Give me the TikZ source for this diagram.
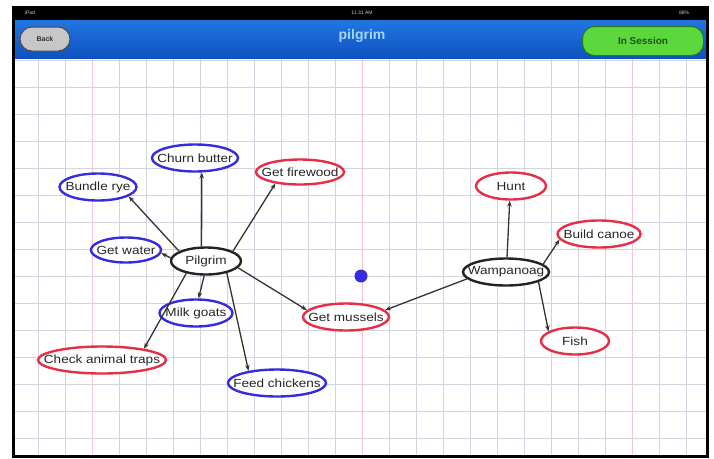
\documentclass[tikz,border=0pt]{standalone}
\usepackage{fontspec}
\usetikzlibrary{arrows.meta,shapes.geometric}
\newfontfamily\appfont[FakeStretch=1.15]{Liberation Sans}
\newfontfamily\barfont{Liberation Sans}
\definecolor{bubblue}{RGB}{52,44,222}
\definecolor{bubred}{RGB}{230,46,70}
\definecolor{bubblack}{RGB}{35,35,35}
\definecolor{gridgray}{RGB}{212,212,224}
\definecolor{gridpink}{RGB}{244,196,208}
\definecolor{bartop}{RGB}{34,118,224}
\definecolor{barbot}{RGB}{14,82,192}
\definecolor{okgreen}{RGB}{92,216,60}
\definecolor{okdark}{RGB}{40,120,30}

\begin{document}
\begin{tikzpicture}[x=1pt,y=-1pt,
    bub/.style={ellipse,draw,line width=2.4pt,fill=white,inner xsep=-25pt,inner ysep=0pt,
                minimum height=27pt,font=\appfont\fontsize{11.8}{13}\selectfont,text=black!85},
    bluebub/.style={bub,draw=bubblue},
    redbub/.style={bub,draw=bubred},
    hubbub/.style={bub,draw=bubblack},
    gridline/.style={draw=gridgray,line width=1pt},
    pill/.style={rounded corners=12pt,inner sep=0pt,font=\barfont\bfseries\fontsize{7}{8}\selectfont}]
\useasboundingbox (0,0) rectangle (714,458);
\fill[white] (0,0) rectangle (714,458);

% paper grid
\foreach \k in {0,...,14}
    \draw[gridline] (15,{60+27*\k}) -- (706,{60+27*\k});
\foreach \k in {-12,...,12}
    \draw[gridline] ({362+27*\k},58) -- ({362+27*\k},455);
\foreach \k in {-10,0,10}
    \draw[draw=gridpink,line width=1pt] ({362+27*\k},58) -- ({362+27*\k},455);

% status bar and title bar
\fill[black] (13,7) rectangle (708,20);
\shade[top color=bartop,bottom color=barbot] (13,20) rectangle (708,58);
\begin{scope}[every node/.style={text=white!80!black,font=\barfont\fontsize{5}{6}\selectfont}]
    \node (carrier) at (30,13) {iPad};
    \node (clock) at (362,13) {11:31 AM};
    \node (battery) at (684,13) {88\%};
\end{scope}
\node[pill,fill=black!22,draw=black!70,line width=1pt,minimum width=50pt,minimum height=24pt,text=black!80] (back) at (45,39) {Back};
\node[text={rgb,255:red,165;green,212;blue,255},font=\barfont\bfseries\fontsize{14}{15}\selectfont] (title) at (362,36) {pilgrim};
\node[pill,fill=okgreen,draw=okdark,line width=1pt,minimum width=121pt,minimum height=29pt,text=okdark!70!black,font=\barfont\bfseries\fontsize{10}{11}\selectfont] (session) at (643,41) {In Session};

% the map
\node[circle,fill=bubblue,inner sep=0pt,minimum size=13pt] (dot) at (361,276) {};

\begin{scope}
    \node[hubbub,minimum width=70pt] (pilgrim) at (206,261) {Pilgrim};
    \node[bluebub,minimum width=86pt] (churn) at (195,158) {Churn butter};
    \node[redbub,minimum width=88pt,minimum height=25pt] (firewood) at (300,172) {Get firewood};
    \node[bluebub,minimum width=77pt] (bundle) at (98,187) {Bundle rye};
    \node[bluebub,minimum width=70pt,minimum height=25pt] (water) at (126,250) {Get water};
    \node[bluebub,minimum width=73pt] (milk) at (196,313) {Milk goats};
    \node[redbub,minimum width=128pt] (traps) at (102,360) {Check animal traps};
    \node[bluebub,minimum width=98pt] (feed) at (277,383) {Feed chickens};
    \node[redbub,minimum width=86pt] (mussels) at (346,317) {Get mussels};
    \node[hubbub,minimum width=86pt] (wamp) at (506,272) {Wampanoag};
    \node[redbub,minimum width=70pt] (hunt) at (511,186) {Hunt};
    \node[redbub,minimum width=83pt] (canoe) at (599,234) {Build canoe};
    \node[redbub,minimum width=68pt] (fish) at (575,341) {Fish};
\end{scope}

\begin{scope}[>={Stealth[length=6pt,width=4.5pt]},
              every edge/.style={draw=black!80,line width=1.3pt}]
    \path [->] (pilgrim.160) edge (bundle.-17);
    \path [->] (pilgrim.107) edge (churn.-65);
    \path [->] (pilgrim.20) edge (firewood.205);
    \path [->] (pilgrim.175) edge (water.-5);
    \path [->] (pilgrim.-97) edge (milk.80);
    \path [->] (pilgrim.212) edge (traps.15);
    \path [->] (pilgrim.-30) edge (feed.157);
    \path [->] (pilgrim.-12) edge (mussels.170);
    \path [->] (wamp.190) edge (mussels.10);
    \path [->] (wamp.86) edge (hunt.-95);
    \path [->] (wamp.12) edge (canoe.188);
    \path [->] (wamp.-17) edge (fish.160);
\end{scope}

% screen frame
\draw[black,line width=3pt] (13.5,7) rectangle (707.5,456.5);
\end{tikzpicture}
\end{document}
